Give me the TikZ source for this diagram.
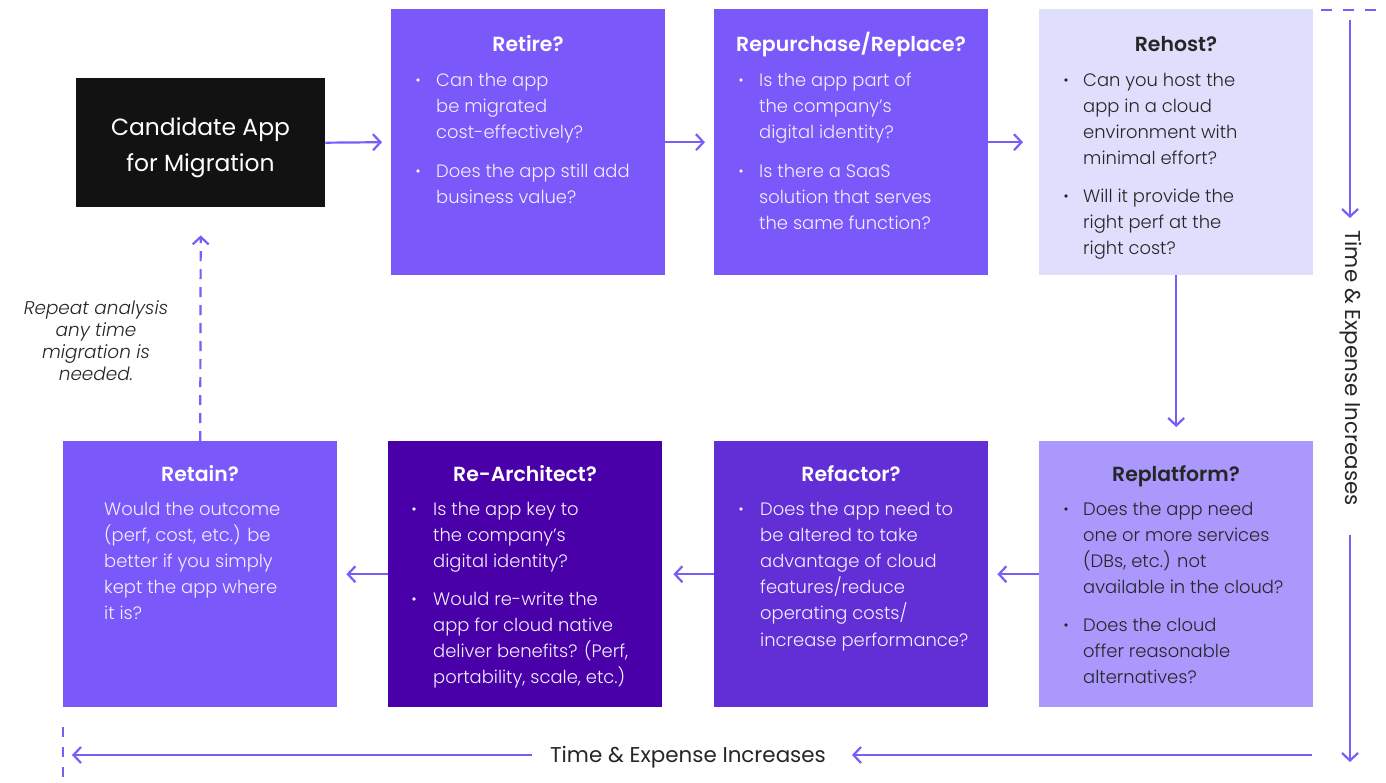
\documentclass[tikz,border=0pt]{standalone}
\usepackage{fontspec}
\setmainfont{Poppins}[UprightFont=* Light, BoldFont=* SemiBold, ItalicFont=* Light Italic, BoldItalicFont=* SemiBold Italic]
\newfontfamily\popreg{Poppins}
\usetikzlibrary{arrows.meta}
\definecolor{arrowc}{HTML}{7B5CFA}
\definecolor{retirec}{HTML}{7A58FA}
\definecolor{rehostc}{HTML}{DFDFFD}
\definecolor{replatc}{HTML}{AA98FC}
\definecolor{refacc}{HTML}{622ED6}
\definecolor{rearchc}{HTML}{4A00A8}
\definecolor{candc}{HTML}{121212}
\definecolor{darktxt}{HTML}{262626}
\definecolor{lighttxt}{HTML}{F3F0FF}
\newcommand\lines[1]{\parbox[t]{235bp}{#1}}
\begin{document}
\begin{tikzpicture}[x=1bp,y=-1bp,
  box/.style={draw=none, anchor=north west, inner sep=0pt, minimum width=274bp, minimum height=266bp},
  ttl/.style={anchor=base, inner sep=0pt, font=\fontsize{20.5}{24}\selectfont\bfseries},
  body/.style={anchor=base west, inner sep=0pt, font=\fontsize{18}{26.3}\selectfont},
  arr/.style={draw=arrowc, line width=2.2bp, -{Straight Barb[length=7.5bp,width=16bp]}},
  dasharr/.style={arr, dash pattern=on 10bp off 8bp},
  dashline/.style={draw=arrowc, line width=2.2bp, dash pattern=on 11bp off 11bp},
  axis/.style={inner sep=0pt, font=\popreg\fontsize{21.5}{24}\selectfont, text=darktxt},
]
\fill[white] (0,0) rectangle (1386,782);
\useasboundingbox (0,0) rectangle (1386,782);

% boxes
\node[draw=none, fill=candc, anchor=north west, inner sep=0pt, minimum width=249bp, minimum height=129bp] (cand) at (76,78) {};
\node[box, fill=retirec] (retire) at (391,9) {};
\node[box, fill=retirec] (repur) at (714,9) {};
\node[box, fill=rehostc] (rehost) at (1039,9) {};
\node[box, fill=replatc] (replat) at (1039,441) {};
\node[box, fill=refacc] (refac) at (714,441) {};
\node[box, fill=rearchc] (rearch) at (388,441) {};
\node[box, fill=retirec] (retain) at (63,441) {};

% candidate text
\node[inner sep=0pt, align=center, text=white, font=\popreg\fontsize{23.5}{36}\selectfont] (candtxt) at (200.5,148) {Candidate App\\for Migration};

% Retire
\node[ttl, text=white] (t1) at (528,52) {Retire?};
\fill[lighttxt] (418,80) circle (1.8);
\node[body, text=lighttxt] (r1a) at (436,86) {\lines{Can the app\\be migrated\\cost-effectively?}};
\fill[lighttxt] (418,171) circle (1.8);
\node[body, text=lighttxt] (r1b) at (436,177) {\lines{Does the app still add\\business value?}};

% Repurchase
\node[ttl, text=white] (t2) at (851,52) {Repurchase/Replace?};
\fill[lighttxt] (741,80) circle (1.8);
\node[body, text=lighttxt] (r2a) at (759,86) {\lines{Is the app part of\\the company’s\\digital identity?}};
\fill[lighttxt] (741,171) circle (1.8);
\node[body, text=lighttxt] (r2b) at (759,177) {\lines{Is there a SaaS\\solution that serves\\the same function?}};

% Rehost
\node[ttl, text=darktxt] (t3) at (1176,52) {Rehost?};
\fill[darktxt] (1066,80) circle (1.8);
\node[body, text=darktxt] (r3a) at (1083,86) {\lines{Can you host the\\app in a cloud\\environment with\\minimal effort?}};
\fill[darktxt] (1066,196) circle (1.8);
\node[body, text=darktxt] (r3b) at (1083,202) {\lines{Will it provide the\\right perf at the\\right cost?}};

% Replatform
\node[ttl, text=darktxt] (t4) at (1176,481) {Replatform?};
\fill[darktxt] (1066,509) circle (1.8);
\node[body, text=darktxt] (r4a) at (1083,515) {\lines{Does the app need\\one or more services\\(DBs, etc.) not\\available in the cloud?}};
\fill[darktxt] (1066,625) circle (1.8);
\node[body, text=darktxt] (r4b) at (1083,631) {\lines{Does the cloud\\offer reasonable\\alternatives?}};

% Refactor
\node[ttl, text=white] (t5) at (851,481) {Refactor?};
\fill[lighttxt] (741,509) circle (1.8);
\node[body, text=lighttxt] (r5a) at (760,515) {\lines{Does the app need to\\be altered to take\\advantage of cloud\\features/reduce\\operating costs/\\increase performance?}};

% Re-Architect
\node[ttl, text=white] (t6) at (525,481) {Re-Architect?};
\fill[lighttxt] (414,509) circle (1.8);
\node[body, text=lighttxt] (r6a) at (433,515) {\lines{Is the app key to\\the company’s\\digital identity?}};
\fill[lighttxt] (414,599) circle (1.8);
\node[body, text=lighttxt] (r6b) at (433,605) {\lines{Would re-write the\\app for cloud native\\deliver benefits? (Perf,\\portability, scale, etc.)}};

% Retain
\node[ttl, text=white] (t7) at (200,481) {Retain?};
\node[body, text=lighttxt] (r7a) at (104,515) {\lines{Would the outcome\\(perf, cost, etc.) be\\better if you simply\\kept the app where\\it is?}};

% repeat note
\node[inner sep=0pt, align=center, text=darktxt, font=\fontsize{18.5}{22}\selectfont\itshape] (note) at (96,341) {Repeat analysis\\any time\\migration is\\needed.};

% connectors
\draw[arr] (cand.east) -- ([xshift=-9bp]retire.west);
\draw[arr] (retire.east) -- ([xshift=-9bp]repur.west);
\draw[arr] (repur.east) -- ([xshift=-16bp]rehost.west);
\draw[arr] (rehost.south) -- ([yshift=14bp]replat.north);
\draw[arr] (replat.west) -- ([xshift=9bp]refac.east);
\draw[arr] (refac.west) -- ([xshift=11bp]rearch.east);
\draw[arr] (rearch.west) -- ([xshift=9bp]retain.east);
\draw[dasharr] (retain.north) -- ([yshift=-28bp]cand.south);

% right axis
\coordinate (rt0) at (1350,20);
\coordinate (rt1) at (1350,218);
\coordinate (rt2) at (1350,535);
\coordinate (rt3) at (1350,762);
\coordinate (rd0) at (1321,10);
\coordinate (rd1) at (1386,10);
\draw[dashline] (rd0) -- (rd1);
\draw[arr] (rt0) -- (rt1);
\node[axis, rotate=-90] (vlab) at (1351,368) {Time \& Expense Increases};
\draw[arr] (rt2) -- (rt3);

% bottom axis
\coordinate (bt0) at (1312,755);
\coordinate (bt1) at (852,755);
\coordinate (bt2) at (532,755);
\coordinate (bt3) at (72,755);
\coordinate (bd0) at (63,727);
\coordinate (bd1) at (63,782);
\draw[arr] (bt0) -- (bt1);
\node[axis] (hlab) at (688,757) {Time \& Expense Increases};
\draw[arr] (bt2) -- (bt3);
\draw[dashline, dash pattern=on 10bp off 10bp] (bd0) -- (bd1);
\end{tikzpicture}
\end{document}
